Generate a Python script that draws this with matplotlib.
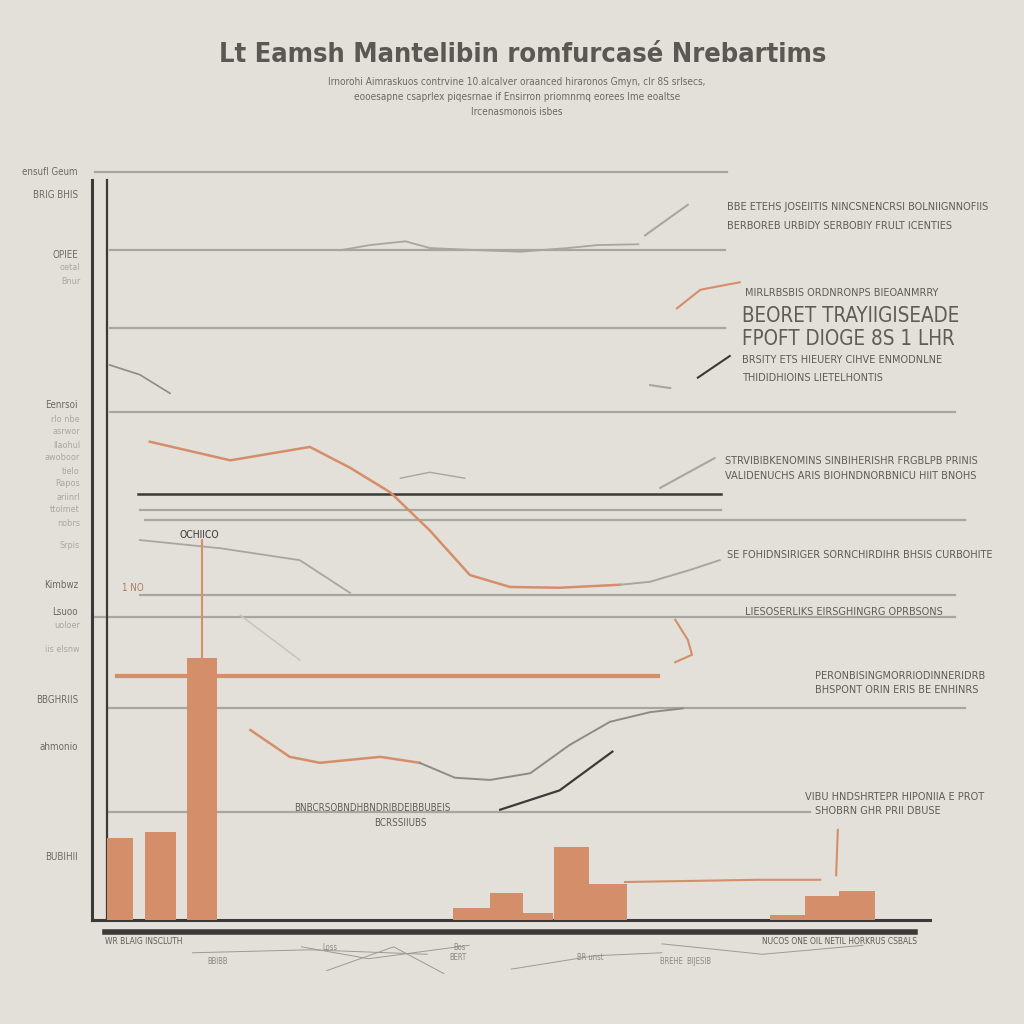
import matplotlib.pyplot as plt

plt.rcParams['font.family'] = ['DejaVu Sans']
plt.rcParams['font.stretch'] = 'condensed'

BG = '#e3e0d9'
ORANGE = '#d48e69'
GRAY = '#a8a6a0'
DARK = '#3b3a38'
TXT = '#6b6965'

# bars (x position, width, height) in axis units 0..100
bar_x = [3.3, 8.2, 13.1, 45.3, 49.5, 53.2, 57.2, 61.6, 83.0, 87.2, 91.3]
bar_w = [3.1, 3.7, 3.6, 4.4, 3.9, 3.6, 4.2, 4.6, 4.2, 4.2, 4.2]
bar_h = [11.0, 11.8, 35.2, 1.6, 3.6, 0.9, 9.8, 4.8, 0.7, 3.2, 3.9]

# horizontal reference lines: level, start, end
grid_y = [100.4, 89.9, 79.5, 68.2, 55.0, 53.7, 43.6, 40.7, 28.5, 14.5]
grid_x0 = [0.4, 2.1, 2.1, 2.1, 5.7, 6.3, 5.7, 0.0, 1.9, 1.9]
grid_x1 = [75.8, 75.5, 75.5, 103.0, 75.0, 104.2, 103.0, 103.0, 104.2, 85.7]
dark_y, dark_x0, dark_x1 = 57.2, 5.5, 75.0
orange_y, orange_x0, orange_x1 = 32.8, 3.0, 67.5

# curves
curve_a_x = [6.9, 16.5, 26.0, 30.8, 35.6, 40.3, 45.1, 49.9, 55.8, 63.0]
curve_a_y = [64.2, 61.7, 63.5, 60.7, 57.4, 52.3, 46.3, 44.7, 44.6, 45.0]
curve_a2_x = [63.0, 66.6, 71.4, 74.9]
curve_a2_y = [45.0, 45.4, 47.0, 48.3]
curve_b_x = [18.9, 23.6, 27.2, 34.4, 39.1]
curve_b_y = [25.5, 21.9, 21.1, 21.9, 21.1]
curve_b2_x = [39.1, 43.3, 47.5, 52.3, 57.0, 61.8, 66.6, 70.5]
curve_b2_y = [21.1, 19.1, 18.8, 19.7, 23.5, 26.6, 27.9, 28.4]
curve_c_x = [48.7, 55.8, 62.1]
curve_c_y = [14.8, 17.4, 22.6]
curve_d_x = [29.6, 33.2, 37.4, 40.3, 46.3, 51.1, 56.8, 60.4, 65.2]
curve_d_y = [89.9, 90.6, 91.1, 90.2, 89.9, 89.7, 90.2, 90.6, 90.7]
curve_e_x = [2.1, 5.7, 9.3]
curve_e_y = [74.5, 73.2, 70.7]
curve_f_x = [5.7, 15.3, 24.8, 30.8]
curve_f_y = [51.0, 49.9, 48.3, 43.9]
curve_g_x = [17.7, 24.8]
curve_g_y = [40.9, 34.9]
curve_h_x = [36.8, 40.3, 44.5]
curve_h_y = [59.3, 60.1, 59.3]

# short leader lines toward annotations: x, y, colour
leaders = [
    ([66.0, 71.1], [91.9, 96.0], GRAY),
    ([69.8, 72.6, 77.3], [82.1, 84.6, 85.6], ORANGE),
    ([72.3, 76.1], [72.8, 75.7], DARK),
    ([66.6, 69.0], [71.8, 71.4], GRAY),
    ([67.8, 74.3], [58.0, 62.0], GRAY),
    ([69.6, 71.1, 71.6, 69.6], [40.3, 37.6, 35.6, 34.6], ORANGE),
    ([63.6, 79.7, 86.9], [5.1, 5.4, 5.4], ORANGE),
    ([89.0, 88.8], [12.1, 6.0], ORANGE),
    ([13.1, 13.1], [35.2, 51.0], ORANGE),
]

# faint scribbles under the axis
footer_lines = [
    ([12.0, 26.0, 40.0], [-4.4, -4.0, -4.6]),
    ([25.0, 33.0, 45.0], [-3.6, -5.2, -3.4]),
    ([28.0, 36.0, 42.0], [-6.8, -3.6, -7.2]),
    ([50.0, 60.0, 68.0], [-6.6, -4.8, -4.4]),
    ([68.0, 80.0, 92.0], [-3.2, -4.6, -3.4]),
]

title = 'Lt Eamsh Mantelibin romfurcasé Nrebartims'
subtitle = ['Irnorohi Aimraskuos contrvine 10.alcalver oraanced hiraronos Gmyn, clr 8S srlsecs,',
            'eooesapne csaprlex piqesrnae if Ensirron priomnrnq eorees lme eoaltse',
            'Ircenasmonois isbes']

left_labels = ['ensufl Geum', 'BRIG BHIS', 'OPIEE', 'Eenrsoi', 'Kimbwz',
               'Lsuoo', 'BBGHRIIS', 'ahmonio', 'BUBIHII']
left_label_py = [172, 195, 255, 405, 585, 612, 700, 747, 857]
faint_labels = ['oetal', 'Bnur', 'rlo nbe', 'asrwor', 'llaohul', 'awoboor', 'tielo',
                'Rapos', 'ariinrl', 'ttolmet', 'nobrs', 'Srpis', 'uoloer', 'iis elsnw']
faint_label_py = [268, 281, 420, 432, 445, 458, 471, 484, 497, 510, 523, 546, 625, 650]

notes = [
    (727, 207, 'BBE ETEHS JOSEIITIS NINCSNENCRSI BOLNIIGNNOFIIS', 7.8),
    (727, 226, 'BERBOREB URBIDY SERBOBIY FRULT ICENTIES', 7.8),
    (745, 293, 'MIRLRBSBIS ORDNRONPS BIEOANMRRY', 7.8),
    (742, 316, 'BEORET TRAYIIGISEADE', 14.8),
    (742, 339, 'FPOFT DIOGE 8S 1 LHR', 14.8),
    (742, 360, 'BRSITY ETS HIEUERY CIHVE ENMODNLNE', 7.8),
    (742, 378, 'THIDIDHIOINS LIETELHONTIS', 7.8),
    (725, 461, 'STRVIBIBKENOMINS SINBIHERISHR FRGBLPB PRINIS', 7.8),
    (725, 476, 'VALIDENUCHS ARIS BIOHNDNORBNICU HIIT BNOHS', 7.8),
    (727, 555, 'SE FOHIDNSIRIGER SORNCHIRDIHR BHSIS CURBOHITE', 7.8),
    (745, 612, 'LIESOSERLIKS EIRSGHINGRG OPRBSONS', 7.8),
    (815, 676, 'PERONBISINGMORRIODINNERIDRB', 7.8),
    (815, 690, 'BHSPONT ORIN ERIS BE ENHINRS', 7.8),
    (805, 797, 'VIBU HNDSHRTEPR HIPONIIA E PROT', 7.8),
    (815, 811, 'SHOBRN GHR PRII DBUSE', 7.8),
]

fig = plt.figure(figsize=(10.24, 10.24), dpi=100, facecolor=BG)
ax = fig.add_axes([92 / 1024, 104 / 1024, 838 / 1024, 745 / 1024])
ax.set_facecolor(BG)
ax.set_xlim(0, 100)
ax.set_ylim(0, 100)
ax.set_xticks([])
ax.set_yticks([])
for s in ['top', 'right']:
    ax.spines[s].set_visible(False)
for s in ['left', 'bottom']:
    ax.spines[s].set_color(DARK)
    ax.spines[s].set_linewidth(2.2)
ax.spines['left'].set_bounds(0, 99.3)

# grid-like lines
for y, a, b in zip(grid_y, grid_x0, grid_x1):
    ax.plot([a, b], [y, y], color=GRAY, lw=1.6, clip_on=False, zorder=1)
ax.plot([dark_x0, dark_x1], [dark_y, dark_y], color=DARK, lw=1.8, zorder=2)
ax.plot([orange_x0, orange_x1], [orange_y, orange_y], color=ORANGE, lw=3, zorder=2)
ax.plot([1.8, 1.8], [0, 99.3], color=DARK, lw=1.6)
ax.plot([1.5, 98.2], [-1.6, -1.6], color=DARK, lw=4, clip_on=False)

ax.bar(bar_x, bar_h, width=bar_w, color=ORANGE, zorder=3)

ax.plot(curve_a_x, curve_a_y, color=ORANGE, lw=1.8, zorder=2)
ax.plot(curve_a2_x, curve_a2_y, color=GRAY, lw=1.4, zorder=2)
ax.plot(curve_b_x, curve_b_y, color=ORANGE, lw=1.8, zorder=2)
ax.plot(curve_b2_x, curve_b2_y, color='#8d8b86', lw=1.4, zorder=2)
ax.plot(curve_c_x, curve_c_y, color=DARK, lw=1.6, zorder=2)
ax.plot(curve_d_x, curve_d_y, color=GRAY, lw=1.3, zorder=2)
ax.plot(curve_e_x, curve_e_y, color='#8d8b86', lw=1.2, zorder=2)
ax.plot(curve_f_x, curve_f_y, color=GRAY, lw=1.3, zorder=2)
ax.plot(curve_g_x, curve_g_y, color='#c8c5be', lw=1.2, zorder=2)
ax.plot(curve_h_x, curve_h_y, color=GRAY, lw=1.0, zorder=2)
for xs, ys, c in leaders:
    ax.plot(xs, ys, color=c, lw=1.5, zorder=2, clip_on=False)
for xs, ys in footer_lines:
    ax.plot(xs, ys, color='#9c9a95', lw=0.7, clip_on=False)

# texts
fig.text(0.51, 1 - 55 / 1024, title, ha='center', va='center', fontsize=19.5,
         fontweight='bold', color='#5a5855')
for i, line in enumerate(subtitle):
    fig.text(0.505, 1 - (82 + 15 * i) / 1024, line, ha='center', va='center',
             fontsize=7.2, color=TXT)
for lab, py in zip(left_labels, left_label_py):
    fig.text(78 / 1024, 1 - py / 1024, lab, ha='right', va='center', fontsize=7, color=TXT)
for lab, py in zip(faint_labels, faint_label_py):
    fig.text(80 / 1024, 1 - py / 1024, lab, ha='right', va='center', fontsize=6.5,
             color='#a9a7a2')
for px, py, s, fs in notes:
    fig.text(px / 1024, 1 - py / 1024, s, ha='left', va='center', fontsize=fs, color='#5e5c59')
fig.text(199 / 1024, 1 - 535 / 1024, 'OCHIICO', ha='center', va='center', fontsize=7.5,
         color=DARK)
fig.text(122 / 1024, 1 - 588 / 1024, '1 NO', ha='left', va='center', fontsize=7, color='#b07a60')
fig.text(372 / 1024, 1 - 808 / 1024, 'BNBCRSOBNDHBNDRIBDEIBBUBEIS', ha='center', va='center',
         fontsize=7, color='#5e5c59')
fig.text(400 / 1024, 1 - 823 / 1024, 'BCRSSIIUBS', ha='center', va='center', fontsize=7,
         color='#5e5c59')
fig.text(105 / 1024, 1 - 942 / 1024, 'WR BLAIG INSCLUTH', ha='left', va='center', fontsize=6,
         color='#5e5c59')
fig.text(917 / 1024, 1 - 942 / 1024, 'NUCOS ONE OIL NETIL HORKRUS CSBALS', ha='right',
         va='center', fontsize=6, color='#5e5c59')
for px, py, s in [(218, 962, 'BBIBB'), (460, 948, 'Bos'), (458, 958, 'BERT'),
                  (685, 962, 'BREHE  BIJESIB'), (330, 948, 'Loss'), (590, 958, 'BR unst')]:
    fig.text(px / 1024, 1 - py / 1024, s, ha='center', va='center', fontsize=5.5, color='#8a8884')

fig.savefig('out.png', dpi=100, facecolor=BG)
